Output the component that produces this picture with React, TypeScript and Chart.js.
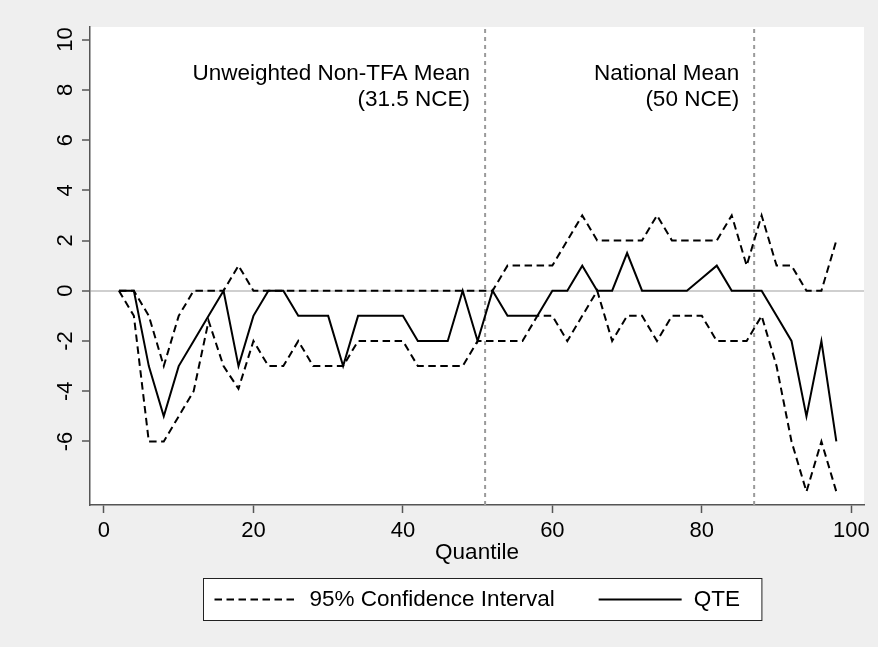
import React, { useEffect, useRef } from "react";
import { Chart, registerables } from "chart.js";

Chart.register(...registerables);

// ---- data ----
const quantiles = [2, 4, 6, 8, 10, 12, 14, 16, 18, 20, 22, 24, 26, 28, 30, 32, 34, 36, 38, 40, 42, 44, 46, 48, 50, 52, 54, 56, 58, 60, 62, 64, 66, 68, 70, 72, 74, 76, 78, 80, 82, 84, 86, 88, 90, 92, 94, 96, 98];
const qte = [0, 0, -3, -5, -3, -2, -1, 0, -3, -1, 0, 0, -1, -1, -1, -3, -1, -1, -1, -1, -2, -2, -2, 0, -2, 0, -1, -1, -1, 0, 0, 1, 0, 0, 1.5, 0, 0, 0, 0, 0.5, 1, 0, 0, 0, -1, -2, -5, -2, -6];
const ciUpper = [0, 0, -1, -3, -1, 0, 0, 0, 1, 0, 0, 0, 0, 0, 0, 0, 0, 0, 0, 0, 0, 0, 0, 0, 0, 0, 1, 1, 1, 1, 2, 3, 2, 2, 2, 2, 3, 2, 2, 2, 2, 3, 1, 3, 1, 1, 0, 0, 2];
const ciLower = [0, -1, -6, -6, -5, -4, -1.2, -3, -3.9, -2, -3, -3, -2, -3, -3, -3, -2, -2, -2, -2, -3, -3, -3, -3, -2, -2, -2, -2, -1, -1, -2, -1, 0, -2, -1, -1, -2, -1, -1, -1, -2, -2, -2, -1, -3, -6, -8, -6, -8];
const xTicks = [0, 20, 40, 60, 80, 100];
const yTicks = [-6, -4, -2, 0, 2, 4, 6, 8, 10];
const refLines = [51, 87];
const refLabels = [
  ["Unweighted Non-TFA Mean", "(31.5 NCE)"],
  ["National Mean", "(50 NCE)"],
];
const legendLabels = ["95% Confidence Interval", "QTE"];
const xTitle = "Quantile";
const X_MIN = -1.87;
const X_MAX = 101.7;
const Y_MIN = -8.53;
const Y_MAX = 10.5;

const FONT = "'Liberation Sans', Arial, Helvetica, sans-serif";
const FS = 22;
const FS_TEXT = 22.5;
const CI_DASH = [7.5, 4.5];

const stataPlugin = {
  id: "stataDecor",
  beforeDraw(chart: any) {
    const { ctx, chartArea, width, height } = chart;
    ctx.save();
    ctx.fillStyle = "#efefef";
    ctx.fillRect(0, 0, width, height);
    ctx.fillStyle = "#ffffff";
    ctx.fillRect(chartArea.left, chartArea.top, chartArea.right - chartArea.left, chartArea.bottom - chartArea.top);
    ctx.restore();
  },
  afterDraw(chart: any) {
    const { ctx, chartArea } = chart;
    const xs = chart.scales.x;
    ctx.save();
    // reference line labels
    ctx.font = `${FS_TEXT}px ${FONT}`;
    ctx.fillStyle = "#000";
    ctx.textAlign = "right";
    ctx.textBaseline = "alphabetic";
    refLines.forEach((r, i) => {
      const px = xs.getPixelForValue(r) - 15;
      ctx.fillText(refLabels[i][0], px, chartArea.top + 53);
      ctx.fillText(refLabels[i][1], px, chartArea.top + 79);
    });
    // legend
    const items = [
      { label: legendLabels[0], ds: chart.data.datasets[0] },
      { label: legendLabels[1], ds: chart.data.datasets[2] },
    ];
    const sampleW = 83;
    const gapText = 12;
    const gapItem = 44;
    const padL = 11;
    const padR = 22;
    let W = padL + padR;
    items.forEach((it, i) => {
      W += sampleW + gapText + ctx.measureText(it.label).width + (i > 0 ? gapItem : 0);
    });
    const cx = (chartArea.left + chartArea.right) / 2 + 5;
    const boxL = Math.round(cx - W / 2) + 0.5;
    const boxT = chart.height - 69 + 0.5;
    const boxH = 42;
    ctx.fillStyle = "#ffffff";
    ctx.fillRect(boxL, boxT, W, boxH);
    ctx.strokeStyle = "#222";
    ctx.lineWidth = 1;
    ctx.setLineDash([]);
    ctx.strokeRect(boxL, boxT, W, boxH);
    let x = boxL + padL;
    const my = boxT + boxH / 2;
    ctx.textAlign = "left";
    ctx.textBaseline = "middle";
    items.forEach((it) => {
      ctx.strokeStyle = it.ds.borderColor;
      ctx.lineWidth = it.ds.borderWidth;
      ctx.setLineDash(it.ds.borderDash || []);
      ctx.beginPath();
      ctx.moveTo(x, my);
      ctx.lineTo(x + sampleW, my);
      ctx.stroke();
      ctx.setLineDash([]);
      x += sampleW + gapText;
      ctx.fillStyle = "#000";
      ctx.fillText(it.label, x, my);
      x += ctx.measureText(it.label).width + gapItem;
    });
    ctx.restore();
  },
};

export default function App() {
  const canvasRef = useRef<HTMLCanvasElement | null>(null);

  useEffect(() => {
    const canvas = canvasRef.current;
    if (!canvas) return;
    const toPts = (arr: number[]) => quantiles.map((q, i) => ({ x: q, y: arr[i] }));
    const lineBase = {
      borderColor: "#000000",
      borderWidth: 2,
      pointRadius: 0,
      pointHoverRadius: 0,
      tension: 0,
      fill: false,
      borderJoinStyle: "miter",
    };
    const datasets: any[] = [
      { ...lineBase, label: legendLabels[0], data: toPts(ciUpper), borderDash: CI_DASH },
      { ...lineBase, label: legendLabels[0] + " (lower)", data: toPts(ciLower), borderDash: CI_DASH },
      { ...lineBase, label: legendLabels[1], data: toPts(qte) },
      ...refLines.map((r) => ({
        label: "ref" + r,
        data: [
          { x: r, y: Y_MIN },
          { x: r, y: Y_MAX },
        ],
        borderColor: "#9a9a9a",
        borderWidth: 2,
        borderDash: [4, 4],
        pointRadius: 0,
        fill: false,
      })),
    ];

    const chart = new Chart(canvas, {
      type: "line",
      data: { datasets },
      options: {
        responsive: false,
        animation: false,
        devicePixelRatio: 1,
        events: [],
        layout: { padding: { top: 27, right: 14, bottom: 81, left: 0 } },
        plugins: {
          legend: { display: false },
          tooltip: { enabled: false },
        },
        scales: {
          x: {
            type: "linear",
            min: X_MIN,
            max: X_MAX,
            afterBuildTicks: (s: any) => {
              s.ticks = xTicks.map((v) => ({ value: v }));
            },
            afterFit: (s: any) => {
              s.height = 61;
            },
            ticks: {
              color: "#000",
              font: { family: FONT, size: FS },
              padding: 5,
              maxRotation: 0,
              autoSkip: false,
            },
            grid: {
              display: true,
              drawOnChartArea: false,
              drawTicks: true,
              tickLength: 8,
              tickColor: "#555",
              tickWidth: 1.5,
            },
            border: { display: true, color: "#555", width: 1.5 },
            title: {
              display: true,
              text: xTitle,
              color: "#000",
              font: { family: FONT, size: FS_TEXT },
              padding: { top: 0, bottom: 0 },
            },
          },
          y: {
            type: "linear",
            min: Y_MIN,
            max: Y_MAX,
            afterBuildTicks: (s: any) => {
              s.ticks = yTicks.map((v) => ({ value: v }));
            },
            afterFit: (s: any) => {
              s.width = 90;
            },
            ticks: {
              color: "#000",
              font: { family: FONT, size: FS },
              padding: 4,
              minRotation: 90,
              maxRotation: 90,
              crossAlign: "center",
              autoSkip: false,
            },
            grid: {
              display: true,
              drawOnChartArea: true,
              drawTicks: true,
              tickLength: 8,
              color: (c: any) => (c.tick && c.tick.value === 0 ? "#cfcfcf" : "rgba(0,0,0,0)"),
              lineWidth: 2,
              tickColor: "#555",
              tickWidth: 1.5,
            },
            border: { display: true, color: "#555", width: 1.5 },
          },
        },
      } as any,
      plugins: [stataPlugin],
    });
    return () => chart.destroy();
  }, []);

  return (
    <div style={{ position: "absolute", left: 0, top: 0, width: 878, height: 647, background: "#efefef" }}>
      <canvas ref={canvasRef} width={878} height={647} style={{ display: "block" }} />
    </div>
  );
}
